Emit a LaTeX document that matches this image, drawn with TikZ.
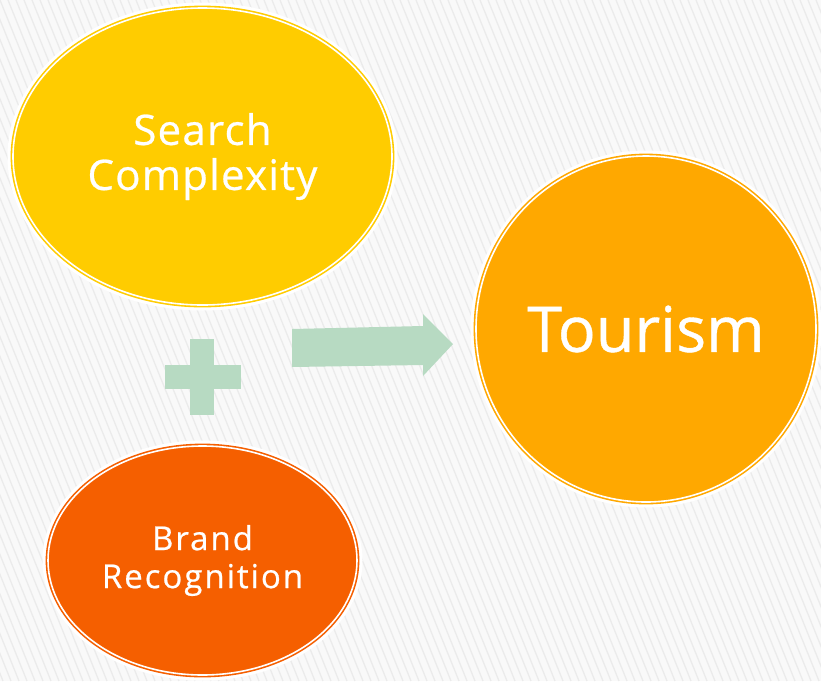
\documentclass[tikz,border=0pt]{standalone}
\usepackage{fontspec}
\setmainfont{Open Sans}[FakeBold=0.6]
\usetikzlibrary{shapes.geometric}
\definecolor{bgcol}{HTML}{F9F9F9}
\definecolor{stripecol}{HTML}{EBEBEB}
\definecolor{searchcol}{HTML}{FFCC00}
\definecolor{tourcol}{HTML}{FFA800}
\definecolor{brandcol}{HTML}{F55F00}
\definecolor{signcol}{HTML}{B7DAC2}
\begin{document}
\begin{tikzpicture}[
    x=1pt, y=1pt,
    stripe/.style={draw=stripecol, line width=1.3pt},
    bubble/.style={ellipse, inner sep=0pt, align=center, text=white,
        fill=#1, draw=#1, double=white, double distance=1.6pt, line width=1.6pt,
        preaction={draw=white, line width=11pt}},
    sign/.style={fill=signcol, draw=none},
    ]
\useasboundingbox (0,0) rectangle (821,-681);
\fill[bgcol] (0,0) rectangle (821,-681);
\begin{scope}
\clip (0,0) rectangle (821,-681);
\foreach \i in {-36,...,104}
    \draw[stripe] (\i*8,0) -- ++(275,-681);
\end{scope}
\node[bubble=searchcol, minimum width=379, minimum height=297,
    font=\fontsize{42}{45}\selectfont\addfontfeature{LetterSpace=3}] (search) at (202.5,-156.5) {Search\\Complexity};
\node[bubble=tourcol, minimum width=340, minimum height=346,
    font=\fontsize{63}{70}\selectfont] (tourism) at (646,-329) {Tourism};
\node[bubble=brandcol, minimum width=309, minimum height=229,
    font=\fontsize{33}{38}\selectfont\addfontfeature{LetterSpace=6}] (brand) at (202.5,-560.5) {Brand\\Recognition};
\fill[sign] (190,-339) rectangle (214,-415);
\fill[sign] (165,-365) rectangle (241,-389);
\fill[sign] (292,-329) -- (423,-326) -- (423,-314) -- (453,-344)
    -- (423,-376) -- (423,-365) -- (292,-367) -- cycle;
\end{tikzpicture}
\end{document}
